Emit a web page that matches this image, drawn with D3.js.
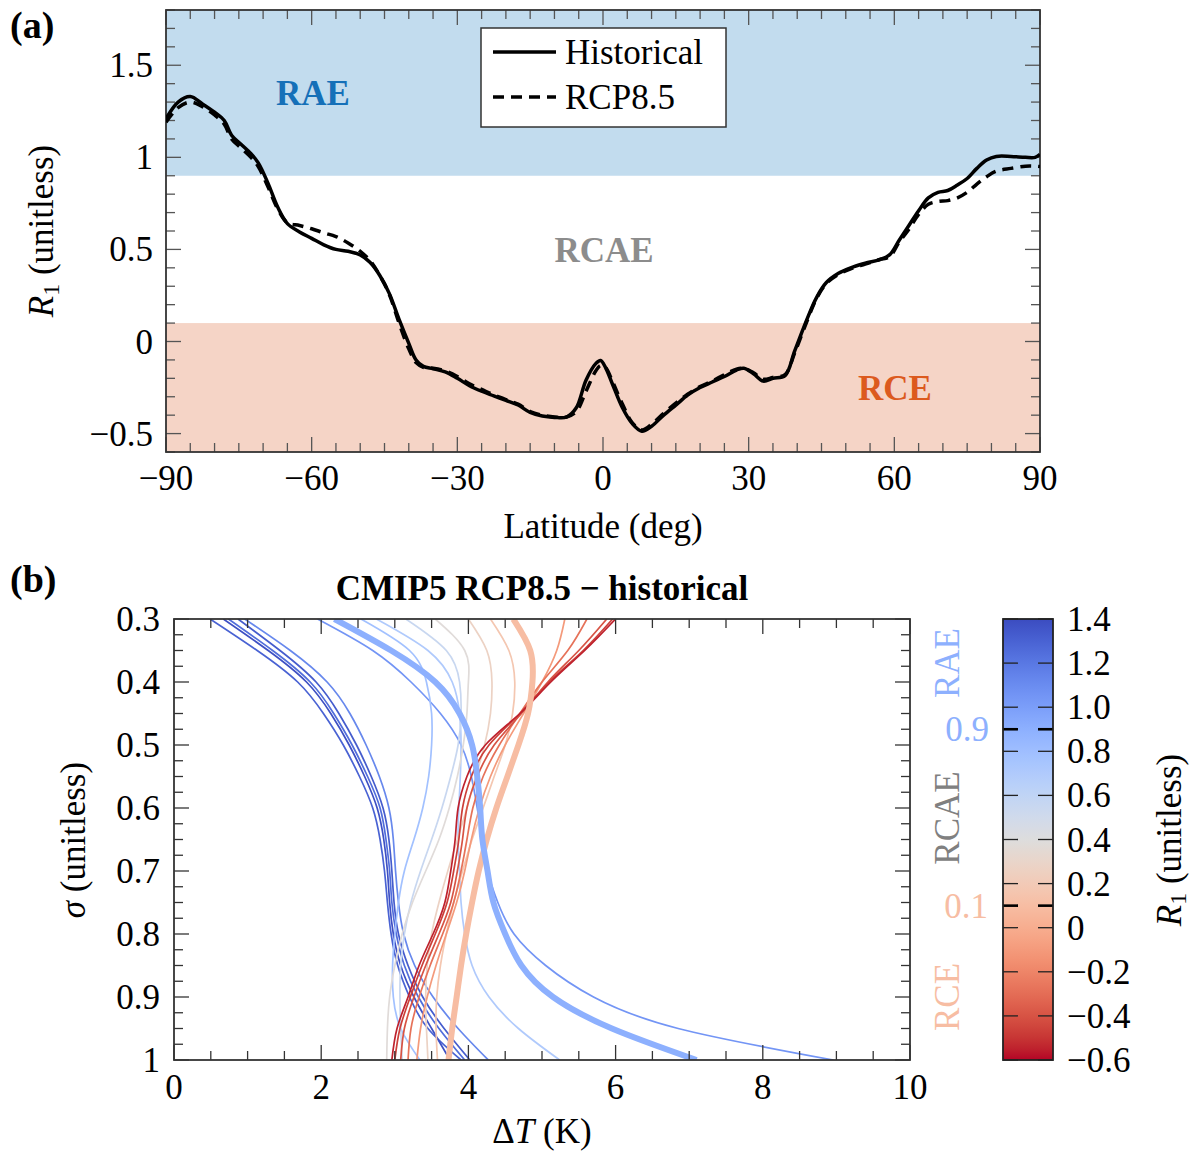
<!DOCTYPE html>
<html><head><meta charset="utf-8">
<script src="https://cdn.jsdelivr.net/npm/d3@7"></script>
<style>
body{margin:0;background:#fff}
svg{display:block}
text{font-family:"Liberation Serif","DejaVu Serif",serif;}
</style>
</head><body>
<svg id="c" width="1195" height="1154"></svg>
<script>
// ---------------- DATA: panel (a) ----------------
const lat = [-90,-87.5,-85,-82.5,-80,-78,-76.5,-74.5,-72.5,-71,-69,-67,-65,-62.5,-60,-57.5,-55,-52.5,-50,-48,-46,-44,-42,-40,-38.5,-37,-35,-32.5,-30,-27.5,-25,-22.5,-20,-17.5,-15,-12.5,-10,-7.5,-5.5,-3.5,-1.5,-0.5,0.5,2,4,6,8,10,12.5,15,17.5,20,22.5,25,27.5,29,31,33,35,37.5,39.5,42,44,46,48.5,51,54,57,59,61,63,65,67,69,71,73,75,77,79,81,84,87,89,90];
const historical = [1.21,1.30,1.33,1.29,1.245,1.2,1.12,1.07,1.02,0.97,0.86,0.73,0.64,0.595,0.56,0.525,0.5,0.49,0.47,0.43,0.36,0.26,0.12,-0.01,-0.1,-0.135,-0.148,-0.165,-0.2,-0.24,-0.27,-0.295,-0.32,-0.345,-0.385,-0.405,-0.412,-0.41,-0.36,-0.21,-0.12,-0.103,-0.14,-0.235,-0.36,-0.445,-0.487,-0.46,-0.4,-0.345,-0.29,-0.25,-0.22,-0.19,-0.155,-0.145,-0.175,-0.215,-0.2,-0.185,-0.05,0.12,0.24,0.32,0.37,0.4,0.425,0.445,0.47,0.55,0.63,0.71,0.78,0.81,0.82,0.85,0.885,0.94,0.985,1.005,1.005,1.0,1.0,1.016];
const rcp85 = [1.19,1.27,1.30,1.275,1.23,1.18,1.10,1.05,1.0,0.95,0.84,0.72,0.645,0.63,0.612,0.59,0.57,0.535,0.49,0.44,0.36,0.255,0.1,-0.04,-0.115,-0.14,-0.145,-0.16,-0.19,-0.23,-0.26,-0.29,-0.315,-0.34,-0.38,-0.4,-0.41,-0.41,-0.38,-0.27,-0.16,-0.13,-0.14,-0.22,-0.34,-0.44,-0.48,-0.45,-0.39,-0.335,-0.285,-0.245,-0.215,-0.18,-0.15,-0.145,-0.17,-0.205,-0.195,-0.18,-0.06,0.11,0.235,0.315,0.365,0.395,0.42,0.445,0.46,0.54,0.61,0.69,0.745,0.76,0.765,0.78,0.81,0.855,0.895,0.925,0.94,0.952,0.952,0.95];
const latTicks = [-90,-60,-30,0,30,60,90];
const r1TicksA = [-0.5,0,0.5,1,1.5];
const regimeBounds = [0.1, 0.9];   // RCE < 0.1 < RCAE < 0.9 < RAE
const legendLabels = ["Historical","RCP8.5"];

// ---------------- DATA: panel (b) ----------------
const sigma = [0.3,0.35,0.4,0.45,0.5,0.55,0.6,0.65,0.7,0.75,0.8,0.85,0.9,0.95,1.0];
const profileR1 = [1.30,1.38,1.25,1.33,1.12,1.05,0.78,0.70,0.55,0.38,0.27,0.17,-0.10,-0.28,-0.40,-0.47,-0.55];
const profileDT = [
  [0.49,1.13,1.68,2.03,2.30,2.52,2.70,2.80,2.86,2.90,2.95,3.04,3.20,3.45,3.90],
  [0.67,1.28,1.80,2.13,2.38,2.59,2.76,2.85,2.90,2.93,2.98,3.08,3.26,3.50,3.75],
  [0.74,1.34,1.85,2.17,2.42,2.63,2.80,2.88,2.93,2.96,3.02,3.13,3.32,3.60,3.95],
  [0.87,1.44,1.93,2.24,2.48,2.68,2.84,2.92,2.96,2.99,3.05,3.18,3.38,3.67,4.02],
  [0.96,1.58,2.08,2.39,2.61,2.79,2.92,2.98,3.01,3.05,3.12,3.27,3.52,3.86,4.27],
  [1.95,2.70,3.22,3.62,3.90,4.04,4.12,4.19,4.26,4.40,4.62,5.05,5.70,6.85,8.96],
  [2.54,3.20,3.43,3.50,3.50,3.46,3.38,3.26,3.13,3.05,3.00,2.97,2.98,3.08,3.34],
  [2.75,3.45,3.78,3.88,3.90,3.89,3.87,3.86,3.88,3.90,3.95,4.05,4.28,4.68,5.24],
  [3.15,3.70,3.88,3.90,3.86,3.76,3.64,3.50,3.35,3.22,3.13,3.08,3.07,3.08,3.10],
  [3.55,3.95,4.00,3.98,3.93,3.85,3.74,3.60,3.42,3.24,3.10,3.00,2.93,2.90,2.89],
  [4.00,4.25,4.32,4.30,4.22,4.10,3.98,3.85,3.72,3.60,3.50,3.44,3.42,3.43,3.45],
  [4.30,4.55,4.63,4.60,4.50,4.35,4.20,4.05,3.92,3.80,3.70,3.62,3.57,3.56,3.58],
  [5.31,5.20,5.00,4.75,4.50,4.30,4.15,4.04,3.95,3.84,3.70,3.56,3.44,3.35,3.30],
  [5.61,5.35,5.00,4.70,4.42,4.20,4.06,3.98,3.90,3.80,3.65,3.48,3.33,3.22,3.18],
  [5.88,5.50,5.08,4.72,4.35,4.12,3.98,3.92,3.85,3.76,3.60,3.42,3.26,3.13,3.08],
  [5.96,5.56,5.10,4.70,4.28,4.04,3.92,3.87,3.80,3.71,3.55,3.37,3.21,3.07,3.00],
  [6.00,5.58,5.12,4.70,4.23,3.98,3.86,3.82,3.76,3.68,3.52,3.33,3.18,3.03,2.96]
];
// regime-threshold profiles (R1 = 0.1 and R1 = 0.9)
const thresholdR1 = [0.1, 0.9];
const thresholdDT = [
  [4.61,4.84,4.87,4.81,4.68,4.53,4.38,4.25,4.14,4.05,3.97,3.90,3.84,3.78,3.73],
  [2.18,2.95,3.55,3.88,4.05,4.12,4.16,4.19,4.26,4.34,4.50,4.72,5.15,5.95,7.10]
];
const dTTicks = [0,2,4,6,8,10];
const sigmaTicks = [0.3,0.4,0.5,0.6,0.7,0.8,0.9,1];
const cbarTicks = [-0.6,-0.4,-0.2,0,0.2,0.4,0.6,0.8,1.0,1.2,1.4];

// coolwarm colormap table
const cw = [[59,76,192],[68,90,204],[77,104,215],[87,117,225],[98,130,234],[108,142,241],[119,154,247],[130,165,251],[141,176,254],[152,185,255],[163,194,255],[174,201,253],[184,208,249],[194,213,244],[204,217,238],[213,219,230],[221,221,221],[229,216,209],[236,211,197],[241,204,185],[245,196,173],[247,187,160],[247,177,148],[247,166,135],[244,154,123],[241,141,111],[236,127,99],[229,112,88],[222,96,77],[213,80,66],[203,62,56],[192,40,47],[180,4,38]];
const coolwarm = d3.scaleLinear().domain(d3.range(cw.length).map(i=>i/(cw.length-1)))
  .range(cw.map(c=>`rgb(${c[0]},${c[1]},${c[2]})`)).interpolate(d3.interpolateRgb).clamp(true);
const r1Color = d3.scaleLinear().domain([1.4,-0.6]).range([0,1]);
const colorOf = r => coolwarm(r1Color(r));

const fmtMinus = v => (v<0 ? "\u2212" : "") + Math.abs(v);

// ---------------- DRAW ----------------
const svg = d3.select("#c");
const FS = 35;
const AX = "#333";

function frameTicks(g, xs, ys, opt){
  const [x0,x1] = xs.range(), [y0,y1] = ys.range(); // y0 bottom, y1 top
  const tk = g.append("g").attr("stroke",opt.tickColor||AX).attr("stroke-width",1.3);
  opt.xMinor.forEach(v=>{
    const L = opt.xMajor.some(m=>Math.abs(m-v)<1e-9) ? opt.maj : opt.min;
    tk.append("line").attr("x1",xs(v)).attr("x2",xs(v)).attr("y1",y0).attr("y2",y0-L);
    tk.append("line").attr("x1",xs(v)).attr("x2",xs(v)).attr("y1",y1).attr("y2",y1+L);
  });
  opt.yMinor.forEach(v=>{
    const L = opt.yMajor.some(m=>Math.abs(m-v)<1e-9) ? opt.maj : opt.min;
    tk.append("line").attr("y1",ys(v)).attr("y2",ys(v)).attr("x1",x0).attr("x2",x0+L);
    tk.append("line").attr("y1",ys(v)).attr("y2",ys(v)).attr("x1",x1).attr("x2",x1-L);
  });
  g.append("rect").attr("x",x0).attr("y",y1).attr("width",x1-x0).attr("height",y0-y1)
    .attr("fill","none").attr("stroke",AX).attr("stroke-width",1.8);
}

// ===== Panel (a) =====
const xA = d3.scaleLinear().domain([-90,90]).range([166,1040]);
const yA = d3.scaleLinear().domain([-0.6,1.8]).range([452,10]);
const gA = svg.append("g");
svg.append("defs").append("clipPath").attr("id","clipA").append("rect")
  .attr("x",xA(-90)).attr("y",yA(1.8)).attr("width",xA(90)-xA(-90)).attr("height",yA(-0.6)-yA(1.8));

gA.append("rect").attr("x",xA(-90)).attr("y",yA(1.8)).attr("width",xA(90)-xA(-90))
  .attr("height",yA(regimeBounds[1])-yA(1.8)).attr("fill","#c2dcee");
gA.append("rect").attr("x",xA(-90)).attr("y",yA(regimeBounds[0])).attr("width",xA(90)-xA(-90))
  .attr("height",yA(-0.6)-yA(regimeBounds[0])).attr("fill","#f5d4c6");

gA.append("text").attr("x",313).attr("y",105).attr("text-anchor","middle").attr("font-weight","bold")
  .attr("font-size",FS).attr("fill","#1570b8").text("RAE");
gA.append("text").attr("x",604).attr("y",262).attr("text-anchor","middle").attr("font-weight","bold")
  .attr("font-size",FS).attr("fill","#8c8c8c").text("RCAE");
gA.append("text").attr("x",895).attr("y",400).attr("text-anchor","middle").attr("font-weight","bold")
  .attr("font-size",FS).attr("fill","#dc5a1e").text("RCE");

frameTicks(gA, xA, yA, {
  xMinor:d3.range(-90,91,5), xMajor:latTicks,
  yMinor:d3.range(-6,19).map(i=>i/10), yMajor:r1TicksA, min:9, maj:15, tickColor:"#555"});

const lineA = d3.line().x((d,i)=>xA(lat[i])).y(d=>yA(d)).curve(d3.curveCatmullRom.alpha(0.5));
const gLines = gA.append("g").attr("clip-path","url(#clipA)");
gLines.append("path").attr("d",lineA(rcp85)).attr("fill","none").attr("stroke","#000")
  .attr("stroke-width",3.5).attr("stroke-dasharray","11,7");
gLines.append("path").attr("d",lineA(historical)).attr("fill","none").attr("stroke","#000")
  .attr("stroke-width",3.5);

// tick labels a
latTicks.forEach(v=>{
  gA.append("text").attr("x",xA(v)).attr("y",490).attr("text-anchor","middle").attr("font-size",FS).text(fmtMinus(v));
});
r1TicksA.forEach(v=>{
  gA.append("text").attr("x",153).attr("y",yA(v)+12).attr("text-anchor","end").attr("font-size",FS).text(fmtMinus(v));
});
gA.append("text").attr("x",603).attr("y",538).attr("text-anchor","middle").attr("font-size",FS).text("Latitude (deg)");
const ylabA = gA.append("text").attr("transform","translate(53,231) rotate(-90)").attr("text-anchor","middle").attr("font-size",FS);
ylabA.append("tspan").attr("font-style","italic").text("R");
ylabA.append("tspan").attr("font-size",24).attr("dy",6).text("1");
ylabA.append("tspan").attr("dy",-6).text(" (unitless)");

// legend
const lg = gA.append("g");
lg.append("rect").attr("x",481).attr("y",28).attr("width",245).attr("height",99).attr("fill","#fff")
  .attr("stroke",AX).attr("stroke-width",1.5);
lg.append("line").attr("x1",493).attr("x2",556).attr("y1",52).attr("y2",52).attr("stroke","#000").attr("stroke-width",3.5);
lg.append("line").attr("x1",493).attr("x2",556).attr("y1",97).attr("y2",97).attr("stroke","#000").attr("stroke-width",3.5).attr("stroke-dasharray","11,7");
lg.append("text").attr("x",565).attr("y",64).attr("font-size",FS).text(legendLabels[0]);
lg.append("text").attr("x",565).attr("y",109).attr("font-size",FS).text(legendLabels[1]);

svg.append("text").attr("x",10).attr("y",38).attr("font-size",38).attr("font-weight","bold").text("(a)");
svg.append("text").attr("x",10).attr("y",592).attr("font-size",38).attr("font-weight","bold").text("(b)");

// ===== Panel (b) =====
const xB = d3.scaleLinear().domain([0,10]).range([174,910]);
const yB = d3.scaleLinear().domain([1,0.3]).range([1060,619]);
const gB = svg.append("g");
svg.select("defs").append("clipPath").attr("id","clipB").append("rect")
  .attr("x",xB(0)).attr("y",yB(0.3)).attr("width",xB(10)-xB(0)).attr("height",yB(1)-yB(0.3));

const lineB = d3.line().x(d=>xB(d)).y((d,i)=>yB(sigma[i])).curve(d3.curveNatural);
const gProf = gB.append("g").attr("clip-path","url(#clipB)").attr("fill","none");
profileDT.forEach((p,k)=>{
  gProf.append("path").attr("d",lineB(p)).attr("stroke",colorOf(profileR1[k])).attr("stroke-width",1.7);
});
thresholdDT.forEach((p,k)=>{
  gProf.append("path").attr("d",lineB(p)).attr("stroke",colorOf(thresholdR1[k])).attr("stroke-width",6);
});

frameTicks(gB, xB, yB, {
  xMinor:d3.range(0,21).map(i=>i/2), xMajor:dTTicks,
  yMinor:d3.range(12,41).map(i=>i/40), yMajor:sigmaTicks, min:9, maj:15});

dTTicks.forEach(v=>{
  gB.append("text").attr("x",xB(v)).attr("y",1099).attr("text-anchor","middle").attr("font-size",FS).text(v);
});
sigmaTicks.forEach(v=>{
  gB.append("text").attr("x",160).attr("y",yB(v)+12).attr("text-anchor","end").attr("font-size",FS).text(v);
});
gB.append("text").attr("x",542).attr("y",600).attr("text-anchor","middle").attr("font-size",FS)
  .attr("font-weight","bold").text("CMIP5 RCP8.5 \u2212 historical");
const xlabB = gB.append("text").attr("x",542).attr("y",1143).attr("text-anchor","middle").attr("font-size",FS);
xlabB.append("tspan").text("\u0394");
xlabB.append("tspan").attr("font-style","italic").text("T");
xlabB.append("tspan").text(" (K)");
const ylabB = gB.append("text").attr("transform","translate(85,840) rotate(-90)").attr("text-anchor","middle").attr("font-size",FS);
ylabB.append("tspan").attr("font-style","italic").text("\u03C3");
ylabB.append("tspan").text(" (unitless)");

// regime labels beside colorbar
const sideLbl = (txt, x, y, col, rot) => {
  const t = gB.append("text").attr("font-size",FS).attr("fill",col).attr("text-anchor","middle").text(txt);
  if (rot) t.attr("transform",`translate(${x},${y}) rotate(-90)`); else t.attr("x",x).attr("y",y);
};
sideLbl("RAE", 959, 663, colorOf(0.9), true);
sideLbl("0.9", 967, 741, colorOf(0.9), false);
sideLbl("RCAE", 959, 818, "#808080", true);
sideLbl("0.1", 966, 918, colorOf(0.1), false);
sideLbl("RCE", 959, 997, colorOf(0.1), true);

// colorbar
const cS = d3.scaleLinear().domain([-0.6,1.4]).range([1060,619]);
const cbX0 = 1003, cbX1 = 1053;
const grad = svg.select("defs").append("linearGradient").attr("id","cbg")
  .attr("x1",0).attr("y1",1).attr("x2",0).attr("y2",0);
d3.range(0,41).forEach(i=>{
  const r = -0.6 + i*0.05;
  grad.append("stop").attr("offset",(i/40)).attr("stop-color",colorOf(r));
});
const gC = svg.append("g");
gC.append("rect").attr("x",cbX0).attr("y",cS(1.4)).attr("width",cbX1-cbX0).attr("height",cS(-0.6)-cS(1.4)).attr("fill","url(#cbg)");
const cbFmt = v => Math.abs(v)<1e-9 ? "0" : (v<0?"\u2212":"") + Math.abs(v).toFixed(1);
cbarTicks.forEach(v=>{
  gC.append("line").attr("x1",cbX0).attr("x2",cbX0+15).attr("y1",cS(v)).attr("y2",cS(v)).attr("stroke","#222").attr("stroke-width",1.3);
  gC.append("line").attr("x1",cbX1).attr("x2",cbX1-15).attr("y1",cS(v)).attr("y2",cS(v)).attr("stroke","#222").attr("stroke-width",1.3);
  gC.append("text").attr("x",1067).attr("y",cS(v)+12).attr("font-size",FS).text(cbFmt(v));
});
regimeBounds.forEach(v=>{
  gC.append("line").attr("x1",cbX0).attr("x2",cbX0+15).attr("y1",cS(v)).attr("y2",cS(v)).attr("stroke","#000").attr("stroke-width",2.6);
  gC.append("line").attr("x1",cbX1).attr("x2",cbX1-15).attr("y1",cS(v)).attr("y2",cS(v)).attr("stroke","#000").attr("stroke-width",2.6);
});
gC.append("rect").attr("x",cbX0).attr("y",cS(1.4)).attr("width",cbX1-cbX0).attr("height",cS(-0.6)-cS(1.4))
  .attr("fill","none").attr("stroke","#222").attr("stroke-width",1.8);
const cbl = gC.append("text").attr("transform","translate(1181,840) rotate(-90)").attr("text-anchor","middle").attr("font-size",FS);
cbl.append("tspan").attr("font-style","italic").text("R");
cbl.append("tspan").attr("font-size",24).attr("dy",5).text("1");
cbl.append("tspan").attr("dy",-5).text(" (unitless)");
</script>
</body></html>
